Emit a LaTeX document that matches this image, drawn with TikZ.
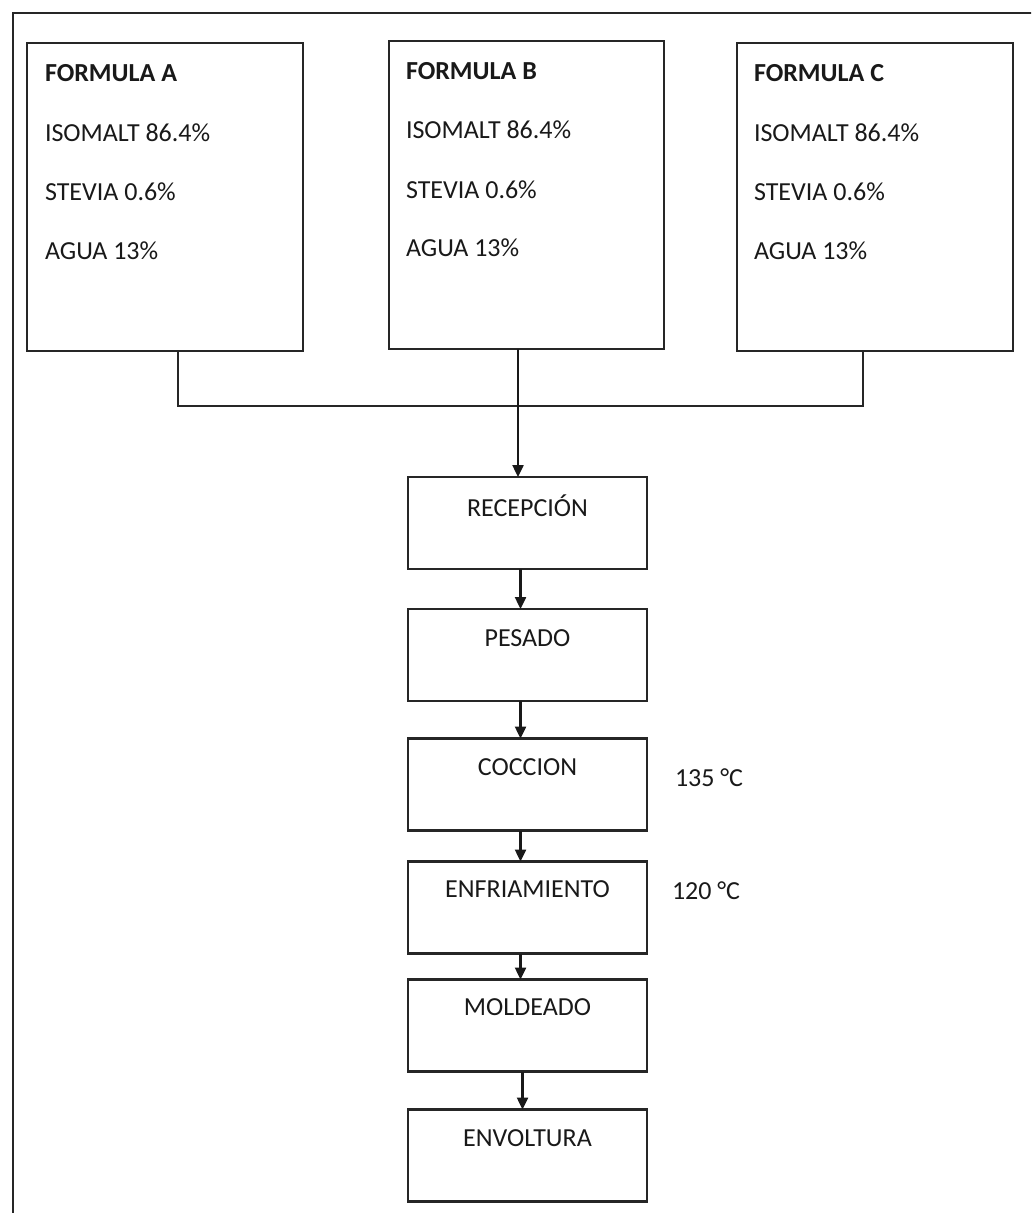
\documentclass[tikz,border=0pt]{standalone}
\usepackage{fontspec}
\setmainfont{Carlito}
\usetikzlibrary{arrows.meta}
\begin{document}
\begin{tikzpicture}[x=1pt,y=-1pt,
  line width=2.4pt,
  every node/.style={inner sep=0pt,outer sep=0pt},
  ln/.style={draw=black!85},
  formbox/.style={draw=black!85,line width=2.4pt,minimum width=276pt,minimum height=308pt},
  stepbox/.style={draw=black!85,line width=2.4pt,minimum width=239pt,minimum height=92pt},
  txt/.style={font=\fontsize{26}{30}\selectfont,text=black!90,anchor=base west},
  ctxt/.style={font=\fontsize{26}{30}\selectfont,text=black!90,anchor=base},
  arr/.style={draw=black!90,-{Triangle[length=12pt,width=11pt]}}]
\clip (0,0) rectangle (1031,1213);
% outer frame
\draw[ln] (13,13) rectangle (1060,1240);
% formula boxes
\node[formbox] (fa) at (165,197) {};
\node[formbox,minimum width=275pt] (fb) at (526.5,195) {};
\node[formbox] (fc) at (875,197) {};
\node[txt] (fa1) at (45,81) {\bfseries FORMULA A};
\node[txt] (fa2) at (45,141) {ISOMALT 86.4\%};
\node[txt] (fa3) at (45,200) {STEVIA 0.6\%};
\node[txt] (fa4) at (45,259) {AGUA 13\%};
\node[txt] (fb1) at (406,79) {\bfseries FORMULA B};
\node[txt] (fb2) at (406,138) {ISOMALT 86.4\%};
\node[txt] (fb3) at (406,198) {STEVIA 0.6\%};
\node[txt] (fb4) at (406,256) {AGUA 13\%};
\node[txt] (fc1) at (754,81) {\bfseries FORMULA C};
\node[txt] (fc2) at (754,141) {ISOMALT 86.4\%};
\node[txt] (fc3) at (754,200) {STEVIA 0.6\%};
\node[txt] (fc4) at (754,259) {AGUA 13\%};
% step boxes
\node[stepbox] (rec) at (527.5,523) {};
\node[stepbox] (pes) at (527.5,655) {};
\node[stepbox] (coc) at (527.5,784.5) {};
\node[stepbox] (enf) at (527.5,907.5) {};
\node[stepbox] (mol) at (527.5,1025.5) {};
\node[stepbox] (env) at (527.5,1155.5) {};
\node[ctxt] (rect) at (527.5,516) {RECEPCIÓN};
\node[ctxt] (pest) at (527.5,646) {PESADO};
\node[ctxt] (coct) at (527.5,775) {COCCION};
\node[ctxt] (enft) at (527.5,897) {ENFRIAMIENTO};
\node[ctxt] (molt) at (527.5,1015) {MOLDEADO};
\node[ctxt] (envt) at (527.5,1146) {ENVOLTURA};
\node[txt] (t135) at (675,786) {135 °C};
\node[txt] (t120) at (672,899) {120 °C};
% connectors
\coordinate (bus) at (518,406);
\draw[ln] ([xshift=13pt]fa.south) |- (bus) -| ([xshift=-12pt]fc.south);
\draw[arr] ([xshift=-8.5pt]fb.south) -- ([xshift=-9.5pt]rec.north);
\draw[arr] ([xshift=-7pt]rec.south) -- ([xshift=-7pt]pes.north);
\draw[arr] ([xshift=-7pt]pes.south) -- ([xshift=-7pt]coc.north);
\draw[arr] ([xshift=-7pt]coc.south) -- ([xshift=-7pt]enf.north);
\draw[arr] ([xshift=-7pt]enf.south) -- ([xshift=-7pt]mol.north);
\draw[arr] ([xshift=-5pt]mol.south) -- ([xshift=-5pt]env.north);
\end{tikzpicture}
\end{document}
